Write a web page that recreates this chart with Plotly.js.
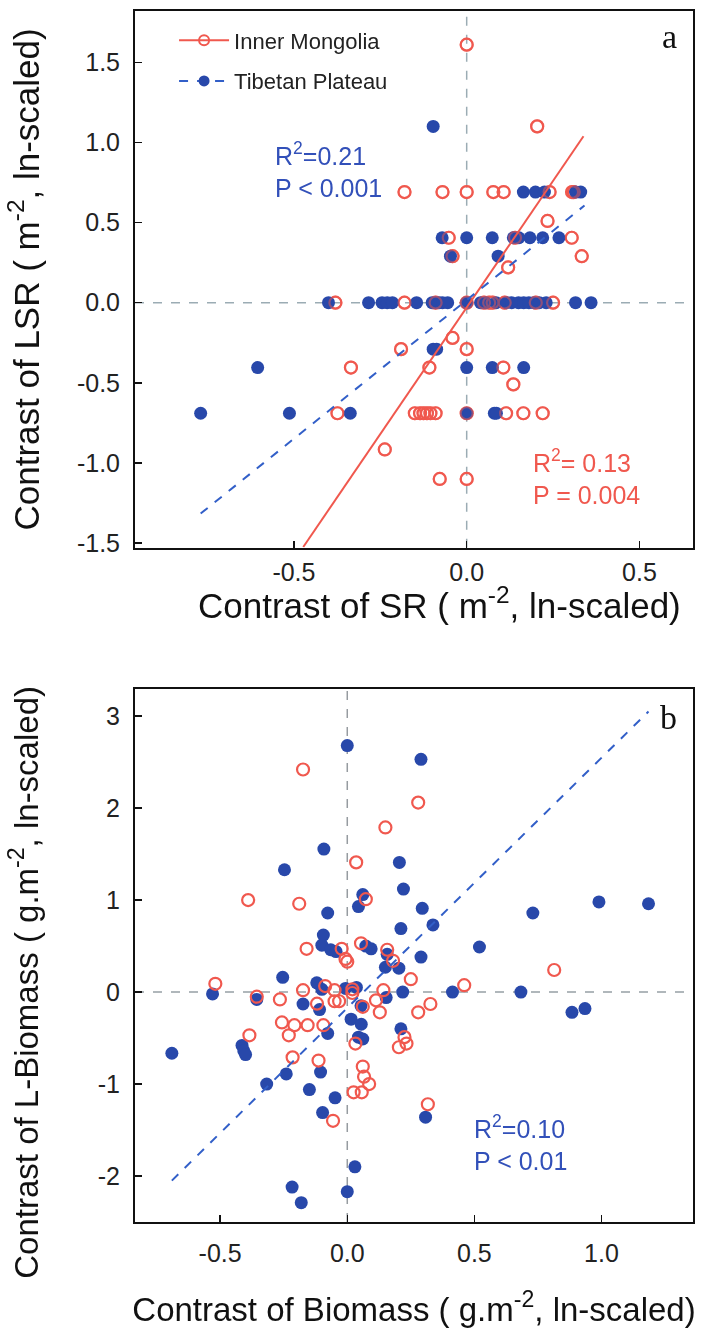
<!DOCTYPE html>
<html>
<head>
<meta charset="utf-8">
<script src="https://cdn.plot.ly/plotly-3.0.1.min.js"></script>
<style>html,body{margin:0;padding:0;background:#fff}#chart{width:701px;height:1329px}</style>
</head>
<body>
<div id="chart"></div>
<script>
// ---------- Panel a: Contrast of SR vs Contrast of LSR ----------
const imSR_x = [0.0, 0.204,
  -0.18,-0.07,0.0,0.077,0.107,0.24,0.305,0.31,
  0.234,
  -0.052,0.14,0.304,
  -0.041,0.333,
  0.12,
  -0.38,-0.18,-0.09,0.0,0.05,0.065,0.075,0.11,0.20,0.25,
  -0.041,
  -0.19,0.0,
  -0.335,-0.108,0.106,
  0.135,
  -0.374,-0.15,-0.135,-0.125,-0.115,-0.105,-0.09,0.0,0.114,0.164,0.22,
  -0.237,
  -0.078,0.0];
const imSR_y = [1.61, 1.10,
  0.69,0.69,0.69,0.69,0.69,0.69,0.69,0.69,
  0.51,
  0.405,0.405,0.405,
  0.29,0.29,
  0.22,
  0,0,0,0,0,0,0,0,0,0,
  -0.22,
  -0.29,-0.29,
  -0.405,-0.405,-0.405,
  -0.51,
  -0.69,-0.69,-0.69,-0.69,-0.69,-0.69,-0.69,-0.69,-0.69,-0.69,-0.69,
  -0.916,
  -1.10,-1.10];
const tpSR_x = [-0.097,
  0.164,0.199,0.225,0.315,0.33,
  -0.071,0.0,0.074,0.135,0.151,0.183,0.22,0.267,
  -0.047,0.091,
  -0.40,-0.284,-0.245,-0.23,-0.215,-0.145,-0.10,-0.09,-0.08,-0.07,-0.055,0.0,0.04,0.055,0.085,0.115,0.13,0.15,0.165,0.18,0.195,0.21,0.23,0.315,0.36,
  -0.097,-0.087,
  -0.605,0.0,0.074,0.165,
  -0.77,-0.513,-0.337,0.0,0.08,0.086];
const tpSR_y = [1.10,
  0.69,0.69,0.69,0.69,0.69,
  0.405,0.405,0.405,0.405,0.405,0.405,0.405,0.405,
  0.29,0.29,
  0,0,0,0,0,0,0,0,0,0,0,0,0,0,0,0,0,0,0,0,0,0,0,0,0,
  -0.29,-0.29,
  -0.405,-0.405,-0.405,-0.405,
  -0.69,-0.69,-0.69,-0.69,-0.69,-0.69];
// fitted regressions (slope, intercept, x extent)
const imSR_fit = {slope: 3.16, intercept: -0.03, x: [-0.473, 0.338]};
const tpSR_fit = {slope: 1.73, intercept: 0.016, x: [-0.77, 0.341]};

// ---------- Panel b: Contrast of Biomass vs Contrast of L-Biomass ----------
const imB_x = [-0.174,0.279,0.15,0.035,0.073,-0.39,-0.189,-0.16,0.054,-0.022,0.157,0.18,-0.007,0.0,0.814,0.25,-0.519,-0.087,-0.174,-0.05,0.02,0.02,0.142,0.46,-0.356,-0.265,-0.119,-0.05,-0.032,0.061,0.113,0.128,0.279,0.327,-0.257,-0.208,-0.156,-0.094,-0.385,-0.23,0.225,0.233,0.203,0.032,-0.215,-0.113,0.061,0.066,0.086,0.057,0.025,-0.056,0.317];
const imB_y = [2.42,2.06,1.79,1.41,1.01,1.0,0.96,0.47,0.53,0.47,0.46,0.34,0.36,0.33,0.24,0.14,0.09,0.065,0.02,0.02,0.03,-0.01,0.02,0.075,-0.05,-0.08,-0.126,-0.10,-0.10,-0.16,-0.09,-0.22,-0.22,-0.13,-0.33,-0.36,-0.36,-0.36,-0.47,-0.47,-0.49,-0.56,-0.60,-0.56,-0.71,-0.745,-0.81,-0.92,-1.0,-1.09,-1.09,-1.40,-1.22];
const tpB_x = [0.0,0.29,-0.092,-0.247,0.205,0.061,0.221,0.99,1.185,0.044,0.73,-0.077,0.295,0.211,0.337,-0.094,-0.10,-0.065,-0.044,0.073,0.094,0.52,0.157,0.29,0.15,0.203,-0.254,-0.53,-0.12,-0.10,-0.007,0.036,0.218,0.414,0.683,-0.356,-0.174,-0.109,0.054,0.153,0.884,0.935,0.015,0.055,-0.077,0.211,0.044,0.061,-0.414,-0.407,-0.40,-0.69,-0.105,-0.24,-0.317,-0.149,-0.048,-0.097,0.308,0.03,0.0,-0.217,-0.181];
const tpB_y = [2.68,2.53,1.555,1.33,1.41,1.06,1.12,0.98,0.96,0.93,0.86,0.86,0.91,0.69,0.73,0.62,0.51,0.46,0.44,0.50,0.47,0.49,0.41,0.38,0.27,0.26,0.16,-0.02,0.10,0.03,0.04,0.05,0.0,0.0,0.0,-0.08,-0.13,-0.19,-0.15,-0.06,-0.22,-0.18,-0.295,-0.35,-0.45,-0.40,-0.49,-0.51,-0.58,-0.64,-0.68,-0.665,-0.87,-0.89,-1.0,-1.06,-1.15,-1.31,-1.36,-1.90,-2.17,-2.12,-2.29];
const tpB_fit = {slope: 2.72, intercept: -0.173, x: [-0.69, 1.185]};

// tick labels
const xTicksA = [-0.5, 0, 0.5];
const xTickTextA = ['-0.5', '0.0', '0.5'];
const yTicksA = [-1.5, -1, -0.5, 0, 0.5, 1, 1.5];
const yTickTextA = ['-1.5', '-1.0', '-0.5', '0.0', '0.5', '1.0', '1.5'];
const xTicksB = [-0.5, 0, 0.5, 1];
const xTickTextB = ['-0.5', '0.0', '0.5', '1.0'];
const yTicksB = [-2, -1, 0, 1, 2, 3];
const yTickTextB = ['-2', '-1', '0', '1', '2', '3'];

const seriesNames = ['Inner Mongolia', 'Tibetan Plateau'];
const axisTitles = {
  xa: 'Contrast of SR ( m<sup>-2</sup>, ln-scaled)',
  ya: 'Contrast of LSR ( m<sup>-2</sup>, ln-scaled)',
  xb: 'Contrast of Biomass ( g.m<sup>-2</sup>, ln-scaled)',
  yb: 'Contrast of L-Biomass ( g.m<sup>-2</sup>, ln-scaled)'
};
const statsA = ['R<sup>2</sup>=0.21<br>P < 0.001', 'R<sup>2</sup>= 0.13<br>P = 0.004'];
const statsB = 'R<sup>2</sup>=0.10<br>P < 0.01';

const RED = 'rgb(240,88,78)';
const BLUE = 'rgb(40,72,170)';
const BLUELINE = 'rgb(50,95,200)';
const ZERO = 'rgb(155,172,180)';
const FONT = 'Liberation Sans, Arial, sans-serif';
const SERIF = 'Liberation Serif, Times New Roman, serif';

function fitLine(f){ return {x: f.x, y: f.x.map(v => f.slope*v + f.intercept)}; }
const fa1 = fitLine(imSR_fit), fa2 = fitLine(tpSR_fit), fb = fitLine(tpB_fit);

const redMarker = {symbol:'circle-open', size:12, color:RED, line:{width:2.2, color:RED}};
const blueMarker = {symbol:'circle', size:13, color:BLUE};

const traces = [
  {x:[0,0], y:[-1.53,1.82], xaxis:'x', yaxis:'y', mode:'lines', line:{color:ZERO, width:1.5, dash:'dash'}, showlegend:false, hoverinfo:'skip'},
  {x:[-0.96,0.655], y:[0,0], xaxis:'x', yaxis:'y', mode:'lines', line:{color:ZERO, width:1.5, dash:'dash'}, showlegend:false, hoverinfo:'skip'},
  {x:[0,0], y:[-2.5,3.3], xaxis:'x2', yaxis:'y2', mode:'lines', line:{color:'rgb(150,155,160)', width:1.5, dash:'dash'}, showlegend:false, hoverinfo:'skip'},
  {x:[-0.835,1.36], y:[0,0], xaxis:'x2', yaxis:'y2', mode:'lines', line:{color:'rgb(150,160,165)', width:1.5, dash:'dash'}, showlegend:false, hoverinfo:'skip'},
  {x:imSR_x, y:imSR_y, xaxis:'x', yaxis:'y', mode:'markers', marker:redMarker, showlegend:false},
  {x:tpSR_x, y:tpSR_y, xaxis:'x', yaxis:'y', mode:'markers', marker:blueMarker, showlegend:false},
  {x:imSR_x, y:imSR_y, xaxis:'x', yaxis:'y', mode:'markers', marker:redMarker, opacity:0.5, showlegend:false, hoverinfo:'skip'},
  {x:fa1.x, y:fa1.y, xaxis:'x', yaxis:'y', mode:'lines', line:{color:RED, width:2}, showlegend:false},
  {x:fa2.x, y:fa2.y, xaxis:'x', yaxis:'y', mode:'lines', line:{color:BLUELINE, width:2, dash:'dash'}, showlegend:false},
  {x:[null], y:[null], xaxis:'x', yaxis:'y', name:seriesNames[0], legendgroup:'g1', mode:'lines+markers', line:{color:RED, width:2}, marker:{symbol:'circle-open', size:10, color:RED, line:{width:2,color:RED}}},
  {x:[null], y:[null], xaxis:'x', yaxis:'y', name:seriesNames[1], legendgroup:'g2', mode:'lines+markers', line:{color:BLUELINE, width:2, dash:'dash'}, marker:{symbol:'circle', size:11, color:BLUE}},
  {x:tpB_x, y:tpB_y, xaxis:'x2', yaxis:'y2', mode:'markers', marker:blueMarker, showlegend:false},
  {x:imB_x, y:imB_y, xaxis:'x2', yaxis:'y2', mode:'markers', marker:redMarker, showlegend:false},
  {x:fb.x, y:fb.y, xaxis:'x2', yaxis:'y2', mode:'lines', line:{color:BLUELINE, width:2, dash:'dash'}, showlegend:false}
];

const axisCommon = {
  showgrid:false, zeroline:false, showline:true, mirror:true, linecolor:'#111', linewidth:2,
  ticks:'inside', ticklen:7, tickwidth:1.5, tickcolor:'#111', tickmode:'array',
  tickfont:{family:FONT, size:25, color:'#222'}, ticklabelstandoff:8
};

const layout = {
  width:701, height:1329,
  margin:{l:135, r:8, t:11, b:107},
  paper_bgcolor:'#fff', plot_bgcolor:'#fff',
  font:{family:FONT},
  showlegend:true,
  legend:{x:0.07, y:0.993, xanchor:'left', yanchor:'top', bgcolor:'rgba(0,0,0,0)', font:{family:FONT, size:22, color:'#222'}, itemwidth:50, traceorder:'grouped', tracegroupgap:9},
  xaxis: Object.assign({}, axisCommon, {domain:[0,1], anchor:'y', range:[-0.96,0.655], tickvals:xTicksA, ticktext:xTickTextA, ticklabelstandoff:1}),
  yaxis: Object.assign({}, axisCommon, {domain:[0.5567,1], anchor:'x', range:[-1.53,1.82], tickvals:yTicksA, ticktext:yTickTextA,
    title:{text:axisTitles.ya, font:{family:FONT, size:35, color:'#111'}, standoff:27}}),
  xaxis2: Object.assign({}, axisCommon, {domain:[0,1], anchor:'y2', range:[-0.835,1.36], tickvals:xTicksB, ticktext:xTickTextB,
    title:{text:axisTitles.xb, font:{family:FONT, size:33, color:'#111'}, standoff:32}}),
  yaxis2: Object.assign({}, axisCommon, {domain:[0,0.4405], anchor:'x2', range:[-2.5,3.3], tickvals:yTicksB, ticktext:yTickTextB}),
  annotations:[
    {xref:'paper', yref:'paper', x:0.545, y:0.511, xanchor:'center', yanchor:'middle', text:axisTitles.xa, showarrow:false, font:{family:FONT, size:35, color:'#111'}},
    {xref:'paper', yref:'paper', x:-0.198, y:0.198, xanchor:'center', yanchor:'middle', textangle:-90, text:axisTitles.yb, showarrow:false, font:{family:FONT, size:33, color:'#111'}},
    {xref:'x domain', yref:'y domain', x:0.975, y:0.99, xanchor:'right', yanchor:'top', text:'a', showarrow:false, font:{family:SERIF, size:34, color:'#111'}},
    {xref:'x2 domain', yref:'y2 domain', x:0.975, y:0.985, xanchor:'right', yanchor:'top', text:'b', showarrow:false, font:{family:SERIF, size:34, color:'#111'}},
    {xref:'x', yref:'y', x:-0.56, y:0.83, xanchor:'left', yanchor:'middle', align:'left', text:statsA[0], showarrow:false, font:{family:FONT, size:25, color:'rgb(50,80,185)'}},
    {xref:'x', yref:'y', x:0.185, y:-1.09, xanchor:'left', yanchor:'middle', align:'left', text:statsA[1], showarrow:false, font:{family:FONT, size:25, color:RED}},
    {xref:'x2', yref:'y2', x:0.49, y:-1.64, xanchor:'left', yanchor:'middle', align:'left', text:statsB, showarrow:false, font:{family:FONT, size:25, color:'rgb(50,80,185)'}}
  ]
};

Plotly.newPlot('chart', traces, layout, {displayModeBar:false, staticPlot:true});
</script>
</body>
</html>
